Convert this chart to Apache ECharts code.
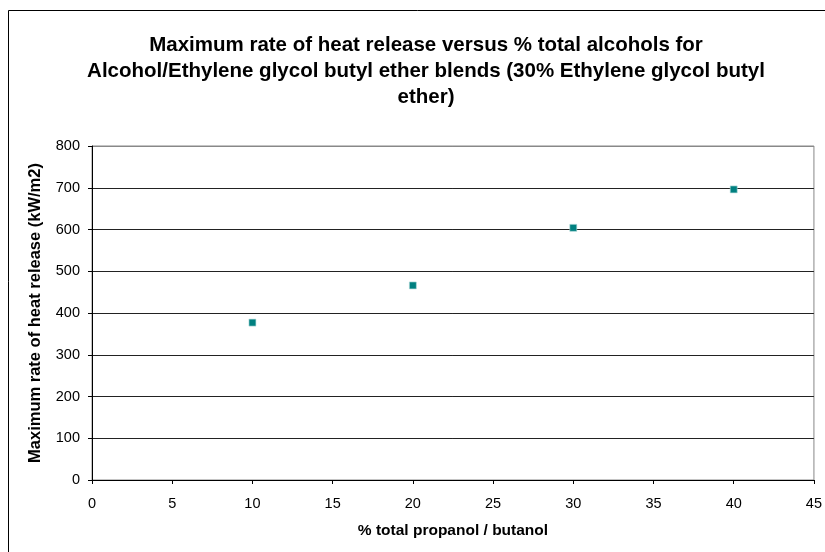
<!DOCTYPE html>
<html>
<head>
<meta charset="utf-8">
<script src="https://cdn.jsdelivr.net/npm/echarts@6/dist/echarts.min.js"></script>
<style>
html,body{margin:0;padding:0;background:#fff;}
#chart{width:825px;height:552px;}
</style>
</head>
<body>
<div id="chart"></div>
<script>
const xValues = [10, 20, 30, 40];
const yValues = [377, 466, 604, 696];
const titleText = 'Maximum rate of heat release versus % total alcohols for\nAlcohol/Ethylene glycol butyl ether blends (30% Ethylene glycol butyl\nether)';
const xAxisName = '% total propanol / butanol';
const yAxisName = 'Maximum rate of heat release (kW/m2)';

const chart = echarts.init(document.getElementById('chart'));
const fontFamily = 'Liberation Sans, Arial, sans-serif';
chart.setOption({
  animation: false,
  backgroundColor: '#fff',
  title: {
    text: titleText,
    left: 421,
    top: 27,
    textAlign: 'center',
    textStyle: {fontFamily, fontSize: 20.5, fontWeight: 'bold', color: '#000', lineHeight: 26}
  },
  graphic: [{
    type: 'rect',
    shape: {x: 8.5, y: 10.5, width: 840, height: 560},
    style: {fill: 'none', stroke: '#000', lineWidth: 1},
    silent: true
  }],
  grid: {
    left: 92, top: 146, right: 11, bottom: 72,
    show: true, borderColor: '#888', borderWidth: 1, backgroundColor: 'transparent'
  },
  xAxis: {
    type: 'value', min: 0, max: 45, interval: 5,
    name: xAxisName, nameLocation: 'middle', nameGap: 43,
    nameTextStyle: {fontFamily, fontSize: 15.5, fontWeight: 'bold', color: '#000'},
    axisLine: {show: true, onZero: false, lineStyle: {color: '#000', width: 1}},
    axisTick: {show: true, inside: false, length: 4, lineStyle: {color: '#000'}},
    axisLabel: {fontFamily, fontSize: 14.5, color: '#000', margin: 16},
    splitLine: {show: false}
  },
  yAxis: {
    type: 'value', min: 0, max: 800, interval: 100,
    name: yAxisName, nameLocation: 'middle', nameGap: 48,
    nameTextStyle: {fontFamily, fontSize: 16.5, fontWeight: 'bold', color: '#000'},
    axisLine: {show: true, onZero: false, lineStyle: {color: '#000', width: 1}},
    axisTick: {show: true, inside: false, length: 4, lineStyle: {color: '#000'}},
    axisLabel: {fontFamily, fontSize: 14.5, color: '#000', margin: 12},
    splitLine: {show: true, lineStyle: {color: ['#222','#222','#222','#222','#222','#222','#222','#222','#888'], width: 1}}
  },
  series: [{
    type: 'scatter',
    data: xValues.map((x, i) => [x, yValues[i]]),
    symbol: 'rect',
    symbolSize: 7,
    itemStyle: {color: '#008080', borderColor: '#b9dede', borderWidth: 0.6, opacity: 1}
  }]
});
</script>
</body>
</html>
